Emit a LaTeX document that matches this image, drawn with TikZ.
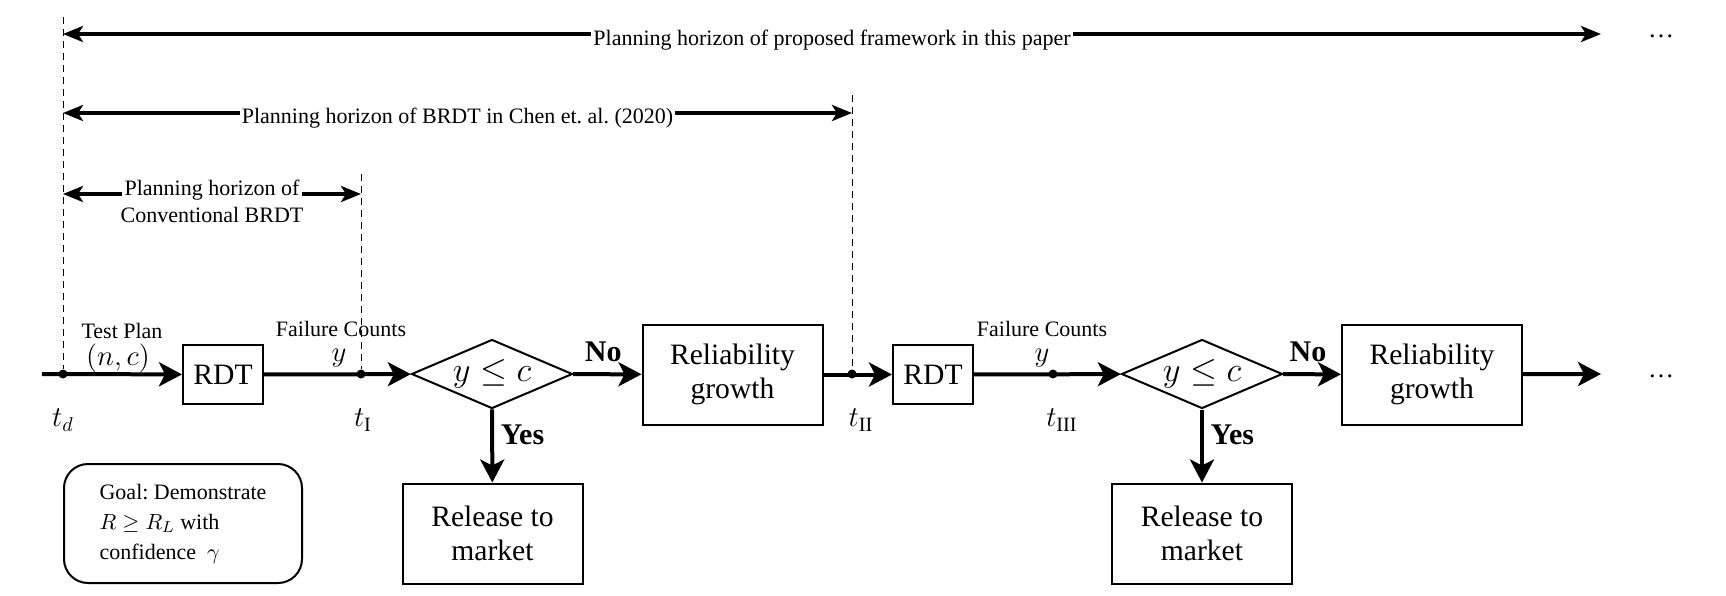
\documentclass[tikz,border=0pt]{standalone}
\usepackage{amsmath,amssymb}
\usepackage{fontspec}
\setmainfont{Liberation Serif}
\usetikzlibrary{shapes.geometric,arrows.meta,positioning}
\frenchspacing

\begin{document}
\begin{tikzpicture}[x=0.5pt, y=-0.5pt,
  box/.style={draw, line width=1pt, minimum width=90pt, minimum height=50pt, align=center, font=\fontsize{14.8}{17}\selectfont},
  rdt/.style={draw, line width=1pt, minimum width=40pt, minimum height=29.5pt, font=\fontsize{14.8}{17}\selectfont},
  test/.style={draw, diamond, line width=1pt, aspect=2.33, minimum width=80.5pt, minimum height=34.5pt, inner sep=0pt, font=\fontsize{17.5}{19}\selectfont},
  flow/.style={line width=2pt, -{Stealth[length=11.5pt, width=12pt, inset=3pt]}},
  span/.style={line width=2pt, {Stealth[length=10pt, width=8pt, inset=2.5pt]}-{Stealth[length=10pt, width=8pt, inset=2.5pt]}},
  guide/.style={line width=0.5pt, dash pattern=on 3.5pt off 2.5pt},
  dot/.style={circle, fill, inner sep=0pt, minimum size=4.5pt},
  small/.style={font=\fontsize{11}{13}\selectfont, inner sep=1pt},
  var/.style={font=\fontsize{15}{16}\selectfont, inner sep=0pt},
  tlab/.style={font=\fontsize{14.5}{16}\selectfont, inner sep=0pt},
  answer/.style={font=\fontsize{15}{16}\selectfont\bfseries},
  more/.style={font=\fontsize{13}{15}\selectfont, anchor=base, inner sep=0pt},
  goal/.style={draw, rounded corners=12pt, line width=1pt, minimum width=119pt, minimum height=59.5pt, align=left, font=\fontsize{11}{15}\selectfont}]

\useasboundingbox (0,0) rectangle (1726,595);

% Time points on the main line
\coordinate (start) at (42,374);
\node[dot] (td) at (63,374) {};
\node[dot] (t1) at (361,374) {};
\node[dot] (t2) at (852,374) {};
\node[dot] (t3) at (1053,374) {};
\coordinate (tdtop) at (63,17);
\coordinate (t1top) at (361,174);
\coordinate (t2top) at (852,95);

% First stage
\node[rdt] (rdt1) at (223,374.5) {RDT};
\node[test] (test1) at (492,374) {$y\leq c$};
\node[box] (rg1) at (732.5,374.5) {Reliability\\growth};
\node[box] (rel1) at (492.5,533.5) {Release to\\market};

% Second stage
\node[rdt] (rdt2) at (933,374.5) {RDT};
\node[test] (test2) at (1202,374) {$y\leq c$};
\node[box] (rg2) at (1432,374.5) {Reliability\\growth};
\node[box] (rel2) at (1202,533.5) {Release to\\market};
\coordinate (endflow) at (1601,374);
\node[more] (more2) at (1661,377) {…};

\node[goal] (goal) at (183,523.5) {Goal: Demonstrate\\$R\geq R_L$ with\\confidence \ $\gamma$};

% Dashed guides
\draw[guide] (tdtop) -- (td);
\draw[guide] (t1top) -- (t1);
\draw[guide] (t2top) -- (t2);

% Main flow
\draw[flow] (start) -- (rdt1);
\draw[flow] (rdt1) -- (test1);
\draw[flow] (test1) -- node[answer, above=2pt, xshift=-2pt] (no1) {No} (rg1);
\draw[flow] (test1) -- node[answer, right, pos=0.35] (yes1) {Yes} (rel1);
\draw[flow] (rg1) -- (rdt2);
\draw[flow] (rdt2) -- (test2);
\draw[flow] (test2) -- node[answer, above=2pt, xshift=-2pt] (no2) {No} (rg2);
\draw[flow] (test2) -- node[answer, right, pos=0.35] (yes2) {Yes} (rel2);
\draw[flow] (rg2) -- (endflow);

% Labels on the main line
\node[small] (plan) at (122,331) {Test Plan};
\node[var] (nc) at (118,358) {$(n,c)$};
\node[small] (fail1) at (341,329) {Failure Counts};
\node[var] (y1) at (339,358) {$y$};
\node[small] (fail2) at (1042,329) {Failure Counts};
\node[var] (y2) at (1042,358) {$y$};
\node[tlab] (tdlab) at (63,420) {$t_d$};
\node[tlab] (t1lab) at (363,420) {$t_{\mathrm{I}}$};
\node[tlab] (t2lab) at (861,420) {$t_{\mathrm{II}}$};
\node[tlab] (t3lab) at (1062,420) {$t_{\mathrm{III}}$};

% Planning horizons
\coordinate (h1l) at (63,34);
\coordinate (h1r) at (1601,34);
\coordinate (h2l) at (63,113);
\coordinate (h2r) at (852,113);
\coordinate (h3l) at (63,194);
\coordinate (h3r) at (361,194);
\draw[span] (h1l) -- node[small, fill=white, yshift=-3pt] (hz1) {Planning horizon of proposed framework in this paper} (h1r);
\node[more] (more1) at (1661,37) {…};
\draw[span] (h2l) -- node[small, fill=white, yshift=-2.5pt] (hz2) {Planning horizon of BRDT in Chen et. al. (2020)} (h2r);
\draw[span] (h3l) -- node[small, fill=white, inner sep=1.5pt, yshift=2pt] (hz3) {Planning horizon of} (h3r);
\node[small, below=0pt of hz3] (hz3b) {Conventional BRDT};
\end{tikzpicture}
\end{document}
